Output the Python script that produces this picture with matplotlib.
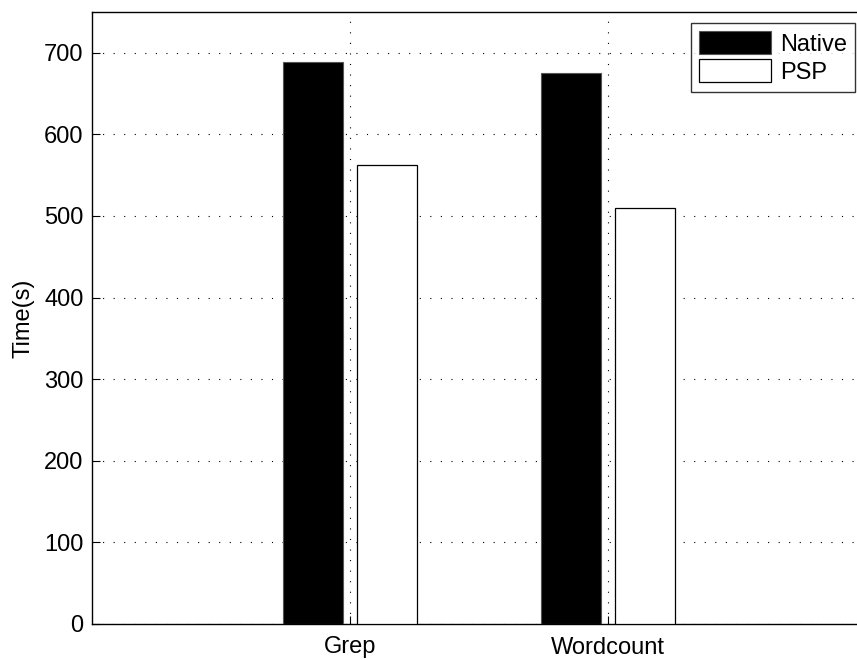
import matplotlib
matplotlib.use("Agg")
import matplotlib.pyplot as plt
import numpy as np

plt.rcParams['font.family'] = ['Liberation Sans', 'DejaVu Sans']

categories = ["Grep", "Wordcount"]
native = [689, 675]
psp = [562, 510]
yticks = [0, 100, 200, 300, 400, 500, 600, 700]

fig = plt.figure(figsize=(8.57, 6.6), dpi=100)
W, H = 857, 660
x0, x1 = 92, 866
y0, y1 = 624, 12
ax = fig.add_axes([x0 / W, (H - y0) / H, (x1 - x0) / W, (y0 - y1) / H])

x = np.arange(1, len(categories) + 1)
off = 0.143
bw = 0.232
ax.bar(x - off, native, bw, color='black', edgecolor='#555555', linewidth=0.8,
       label='Native', zorder=3)
ax.bar(x + off, psp, bw, color='white', edgecolor='black', linewidth=0.9,
       label='PSP', zorder=3)

ax.set_xlim(0, 3)
ax.set_ylim(0, 750)
ax.set_xticks(x)
ax.set_xticklabels(categories)
ax.set_yticks(yticks)
ax.tick_params(direction='in', length=6, width=0.8, labelsize=17)
ax.tick_params(axis='x', pad=9)
ax.tick_params(axis='y', pad=6)
ax.grid(True, linestyle=(0, (1, 8.5)), color='black', linewidth=0.8, zorder=1)
ax.set_axisbelow(True)
for s in ax.spines.values():
    s.set_linewidth(1.0)
ax.set_ylabel('Time(s)', fontsize=17, labelpad=7)

leg = ax.legend(loc='upper right', bbox_to_anchor=((855 - x0) / (x1 - x0), (y0 - 23) / (y0 - y1)),
                fontsize=17, frameon=True, fancybox=False, edgecolor='black',
                handlelength=3.05, handleheight=1.1, handletextpad=0.35,
                borderpad=0.35, labelspacing=0.15, borderaxespad=0)
leg.get_frame().set_linewidth(1.0)

fig.savefig('out.png', dpi=100)
